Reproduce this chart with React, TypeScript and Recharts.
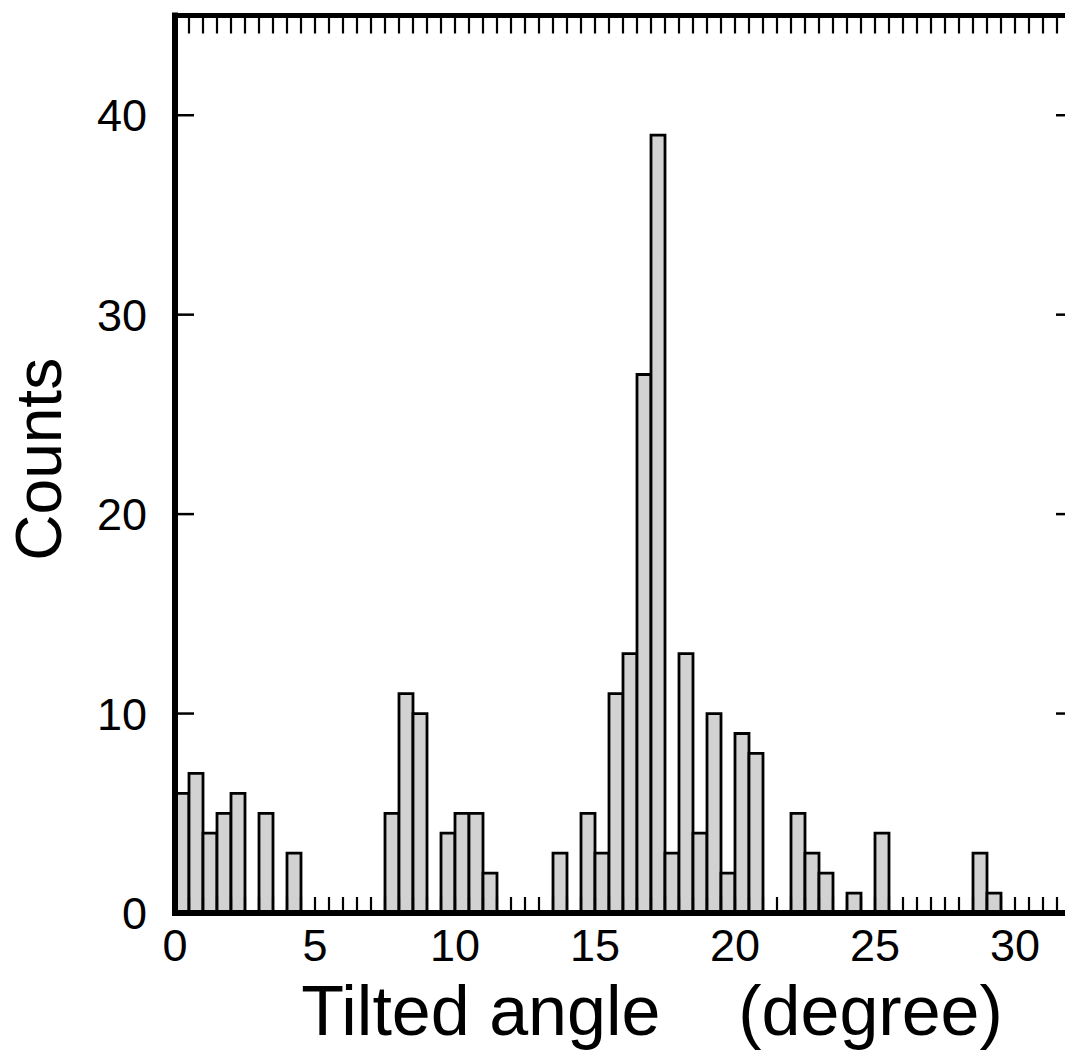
import React from 'react';
import { ComposedChart, Bar, XAxis, YAxis, Label } from 'recharts';

// Histogram of tilted angles, bins of 0.5 degree starting at 0
const binWidth = 0.5;
const counts = [
  6, 7, 4, 5, 6, 0, 5, 0, 3, 0,
  0, 0, 0, 0, 0, 5, 11, 10, 0, 4,
  5, 5, 2, 0, 0, 0, 0, 3, 0, 5,
  3, 11, 13, 27, 39, 3, 13, 4, 10, 2,
  9, 8, 0, 0, 5, 3, 2, 0, 1, 0,
  4, 0, 0, 0, 0, 0, 0, 3, 1, 0,
  0, 0, 0, 0,
];
const data = counts.map((c, i) => ({ angle: i * binWidth + binWidth / 2, count: c }));

const xMajorTicks = [0, 5, 10, 15, 20, 25, 30];
const xMinorTicks = Array.from({ length: 64 }, (_, i) => (i + 1) * binWidth);
const yTicks = [0, 10, 20, 30, 40];
const yInnerTicks = [10, 20, 30, 40];
const xDomain: [number, number] = [0, 32];
const yDomain: [number, number] = [0, 45];

const FONT = '"Liberation Sans", Arial, Helvetica, sans-serif';

const BottomTick = (props: any) => {
  const { x, y, payload } = props;
  return (
    <text x={x} y={y + 48} textAnchor="middle" fontFamily={FONT} fontSize={45} fill="#000">
      {payload.value}
    </text>
  );
};

const LeftTick = (props: any) => {
  const { x, y, payload } = props;
  return (
    <text x={x - 28} y={y + 16} textAnchor="end" fontFamily={FONT} fontSize={45} fill="#000">
      {payload.value}
    </text>
  );
};

// inward tick marks drawn at the axis-provided anchor
const BottomInnerTick = (props: any) => (
  <line x1={props.x} x2={props.x} y1={props.y} y2={props.y - 16} stroke="#000" strokeWidth={2.2} />
);
const TopInnerTick = (props: any) => (
  <line x1={props.x} x2={props.x} y1={props.y} y2={props.y + 18} stroke="#000" strokeWidth={2.2} />
);
const LeftInnerTick = (props: any) => (
  <line x1={props.x} x2={props.x + 19} y1={props.y} y2={props.y} stroke="#000" strokeWidth={2.5} />
);
const RightInnerTick = (props: any) => (
  <line x1={props.x} x2={props.x - 15} y1={props.y} y2={props.y} stroke="#000" strokeWidth={2.5} />
);

const XTitle = (props: any) => {
  const vb = props.viewBox || {};
  const cx = vb.x + vb.width / 2 + 29;
  return (
    <text
      x={cx}
      y={vb.y + 122}
      textAnchor="middle"
      fontFamily={FONT}
      fontSize={70}
      fill="#000"
      xmlSpace="preserve"
      style={{ whiteSpace: 'pre' }}
    >
      {'Tilted angle    (degree)'}
    </text>
  );
};

const YTitle = (props: any) => {
  const vb = props.viewBox || {};
  const cx = 61;
  const cy = vb.y + vb.height / 2 - 5;
  return (
    <text
      x={cx}
      y={cy}
      transform={`rotate(-90 ${cx} ${cy})`}
      textAnchor="middle"
      fontFamily={FONT}
      fontSize={64}
      fill="#000"
    >
      Counts
    </text>
  );
};

const thickLine = { stroke: '#000', strokeWidth: 6, strokeLinecap: 'square' as const };

export default function App() {
  return (
    <div style={{ position: 'absolute', left: 0, top: 0, width: 1065, height: 1055, overflow: 'hidden', background: '#fff' }}>
      <ComposedChart
        width={1075}
        height={1055}
        data={data}
        margin={{ top: 15.5, right: 4, bottom: 0, left: 0 }}
        barCategoryGap={0}
        barGap={0}
      >
        <Bar
          xAxisId="main"
          yAxisId="main"
          dataKey="count"
          fill="#d2d2d2"
          stroke="#000"
          strokeWidth={2.8}
          isAnimationActive={false}
        />
        <XAxis
          xAxisId="main"
          dataKey="angle"
          type="number"
          orientation="bottom"
          domain={xDomain}
          allowDataOverflow
          ticks={xMajorTicks}
          height={142}
          tickSize={0}
          tickMargin={0}
          tickLine={false}
          axisLine={thickLine}
          tick={<BottomTick />}
          interval={0}
        >
          <Label content={<XTitle />} />
        </XAxis>
        <XAxis
          xAxisId="minorBottom"
          dataKey="angle"
          type="number"
          orientation="bottom"
          mirror
          domain={xDomain}
          allowDataOverflow
          ticks={xMinorTicks}
          interval={0}
          tickSize={0}
          tickMargin={0}
          tickLine={false}
          axisLine={false}
          tick={<BottomInnerTick />}
        />
        <XAxis
          xAxisId="top"
          dataKey="angle"
          type="number"
          orientation="top"
          mirror
          domain={xDomain}
          allowDataOverflow
          ticks={xMinorTicks}
          interval={0}
          tickSize={0}
          tickMargin={0}
          tickLine={false}
          axisLine={{ stroke: '#000', strokeWidth: 5, strokeLinecap: 'square' }}
          tick={<TopInnerTick />}
        />
        <YAxis
          yAxisId="main"
          orientation="left"
          type="number"
          domain={yDomain}
          allowDataOverflow
          ticks={yTicks}
          interval={0}
          width={175}
          tickSize={0}
          tickMargin={0}
          tickLine={false}
          axisLine={thickLine}
          tick={<LeftTick />}
        >
          <Label content={<YTitle />} />
        </YAxis>
        <YAxis
          yAxisId="leftInner"
          orientation="left"
          mirror
          type="number"
          domain={yDomain}
          allowDataOverflow
          ticks={yInnerTicks}
          interval={0}
          tickSize={0}
          tickMargin={0}
          tickLine={false}
          axisLine={false}
          tick={<LeftInnerTick />}
        />
        <YAxis
          yAxisId="rightInner"
          orientation="right"
          mirror
          type="number"
          domain={yDomain}
          allowDataOverflow
          ticks={yInnerTicks}
          interval={0}
          tickSize={0}
          tickMargin={0}
          tickLine={false}
          axisLine={false}
          tick={<RightInnerTick />}
        />
      </ComposedChart>
    </div>
  );
}
